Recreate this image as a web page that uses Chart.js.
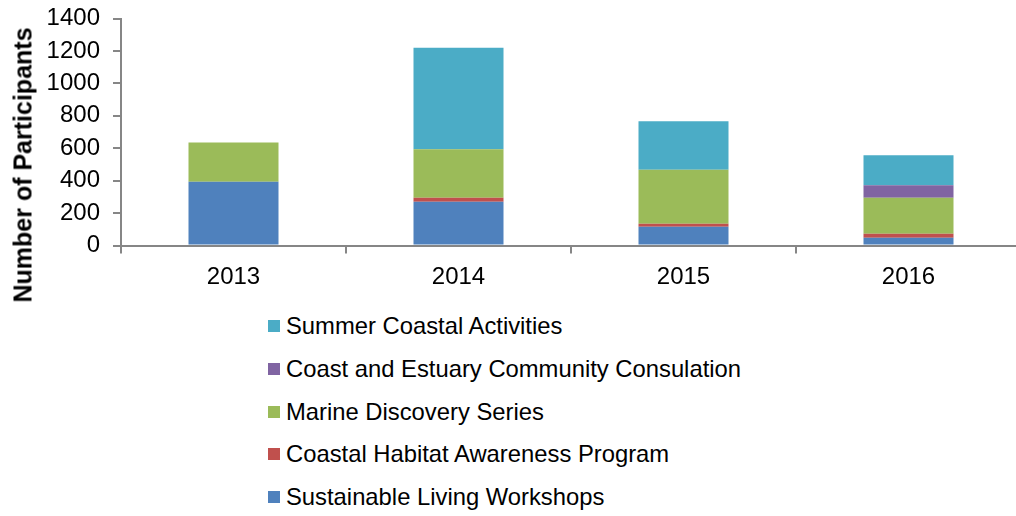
<!DOCTYPE html>
<html>
<head>
<meta charset="utf-8">
<script src="https://cdn.jsdelivr.net/npm/chart.js@4"></script>
<style>
  html, body { margin: 0; padding: 0; background: #fff; overflow: hidden; }
  body { width: 1016px; height: 516px; position: relative; font-family: "Liberation Sans", Arial, sans-serif; }
  #wrap { position: absolute; left: 0; top: 0; width: 1030px; height: 300px; }
  #tituloY {
    position: absolute; left: 23px; top: 165px;
    transform: translate(-50%, -50%) rotate(-90deg);
    white-space: nowrap; font-weight: bold; font-size: 25px; color: #000;
  }
  #leyenda { position: absolute; left: 268px; top: 305px; }
  .item { height: 42.7px; display: flex; align-items: center; font-size: 23.8px; color: #000; }
  .caja { width: 12px; height: 12px; margin-right: 6px; }
</style>
</head>
<body>
<div id="wrap"><canvas id="grafica" width="1030" height="300"></canvas></div>
<div id="tituloY">Number of Participants</div>
<div id="leyenda"></div>
<script>
const anios = ['2013', '2014', '2015', '2016'];

const sustainableLiving = [393, 270, 116, 48];
const coastalHabitat = [0, 25, 18, 25];
const marineDiscovery = [243, 298, 333, 222];
const coastEstuary = [0, 0, 0, 76];
const summerCoastal = [0, 627, 299, 185];

const nombres = [
    'Sustainable Living Workshops',
    'Coastal Habitat Awareness Program',
    'Marine Discovery Series',
    'Coast and Estuary Community Consulation',
    'Summer Coastal Activities'
];
const colores = ['#4F81BD', '#C0504D', '#9BBB59', '#8064A2', '#4BACC6'];
const valores = [sustainableLiving, coastalHabitat, marineDiscovery, coastEstuary, summerCoastal];

const fuente = { family: '"Liberation Sans", Arial, sans-serif', size: 24, lineHeight: 1 };

const ctx = document.getElementById('grafica').getContext('2d');

new Chart(ctx, {
    type: 'bar',
    data: {
        labels: anios,
        datasets: nombres.map((n, i) => ({
            label: n,
            data: valores[i],
            backgroundColor: colores[i],
            borderWidth: 0,
            categoryPercentage: 1,
            barPercentage: 0.4
        }))
    },
    options: {
        responsive: false,
        animation: false,
        layout: { padding: { top: 18.5, right: 9, left: 0, bottom: 0 } },
        plugins: { legend: { display: false }, tooltip: { enabled: false } },
        scales: {
            x: {
                stacked: true,
                grid: { display: true, drawOnChartArea: false, offset: true, tickLength: 8, color: '#868686', lineWidth: 2 },
                border: { color: '#868686', width: 2 },
                ticks: { color: '#000', font: fuente, padding: 12 },
                afterFit: (s) => { s.height = 54.5; }
            },
            y: {
                stacked: true,
                min: 0,
                max: 1400,
                grid: { display: true, drawOnChartArea: false, tickLength: 8, color: '#868686', lineWidth: 2 },
                border: { color: '#868686', width: 2 },
                ticks: { stepSize: 200, autoSkip: false, color: '#000', font: fuente, padding: 13, callback: (v) => String(v) },
                afterFit: (s) => { s.width = 121; s.paddingTop = 0; s.paddingBottom = 0; }
            }
        }
    }
});

// Leyenda (orden inverso, como en el original)
const leyenda = document.getElementById('leyenda');
for (let i = nombres.length - 1; i >= 0; i--) {
    const item = document.createElement('div');
    item.className = 'item';
    item.innerHTML = `<span class="caja" style="background:${colores[i]}"></span>${nombres[i]}`;
    leyenda.appendChild(item);
}
</script>
</body>
</html>
